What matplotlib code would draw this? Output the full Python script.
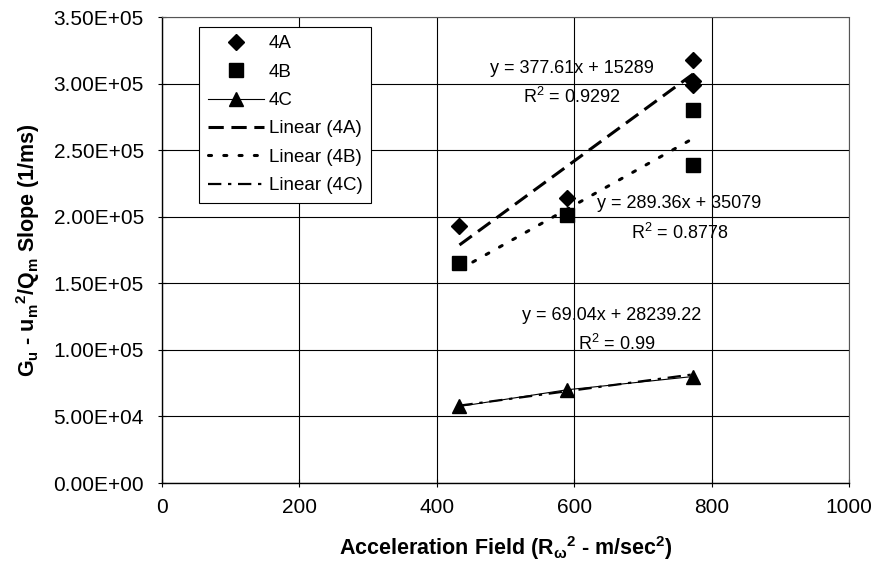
import matplotlib
matplotlib.use('Agg')
import matplotlib.pyplot as plt

plt.rcParams['font.family'] = ['Liberation Sans', 'DejaVu Sans']
plt.rcParams['mathtext.fontset'] = 'custom'
plt.rcParams['mathtext.rm'] = 'Liberation Sans'
plt.rcParams['mathtext.bf'] = 'Liberation Sans:bold'
plt.rcParams['mathtext.it'] = 'Liberation Sans:italic'

# data
x_4a = [433, 589, 773, 773, 773]
y_4a = [193000, 214000, 318000, 302000, 299000]
x_4b = [433, 589, 773, 773]
y_4b = [165000, 201000, 280000, 239000]
x_4c = [433, 589, 773]
y_4c = [57500, 70000, 80000]

# trendline coefficients printed on the chart
slopes = [377.61, 289.36, 69.04]
intercepts = [15289, 35079, 28239.22]
eq_labels = ['y = 377.61x + 15289', 'y = 289.36x + 35079', 'y = 69.04x + 28239.22']
r2_labels = [r'R$^\mathrm{2}$ = 0.9292', r'R$^\mathrm{2}$ = 0.8778', r'R$^\mathrm{2}$ = 0.99']
eq_pos = [(596, 311500), (753, 210000), (655, 125600)]
r2_pos = [(596, 290000), (753, 187800), (662, 104700)]

x_ticks = [0, 200, 400, 600, 800, 1000]
y_ticks = [0, 50000, 100000, 150000, 200000, 250000, 300000, 350000]

fig = plt.figure(figsize=(8.74, 5.65), dpi=100)
ax = fig.add_axes([0.1854, 0.1451, 0.786, 0.8248])

ax.plot(x_4a, y_4a, linestyle='none', marker='D', markersize=8.5, color='black', label='4A')
ax.plot(x_4b, y_4b, linestyle='none', marker='s', markersize=10, color='black', label='4B')
ax.plot(x_4c, y_4c, linestyle='-', linewidth=0.8, marker='^', markersize=10, color='black', label='4C')

styles = [dict(linestyle=(0, (5, 2.5)), linewidth=2.2),
          dict(linestyle=(0, (1, 4)), linewidth=2.2, dash_capstyle='round'),
          dict(linestyle=(0, (6, 3, 1.5, 3)), linewidth=1.6)]
names = ['Linear (4A)', 'Linear (4B)', 'Linear (4C)']
for xs, m, b, st, nm in zip([x_4a, x_4b, x_4c], slopes, intercepts, styles, names):
    x0, x1 = min(xs), max(xs)
    ax.plot([x0, x1], [m * x0 + b, m * x1 + b], color='black', label=nm, **st)

for t, p in zip(eq_labels, eq_pos):
    ax.text(p[0], p[1], t, ha='center', va='center', fontsize=13)
for t, p in zip(r2_labels, r2_pos):
    ax.text(p[0], p[1], t, ha='center', va='center', fontsize=13)

ax.set_xlim(0, 1000)
ax.set_ylim(0, 350000)
ax.set_xticks(x_ticks)
ax.set_yticks(y_ticks)
ax.set_yticklabels(['%.2E' % v for v in y_ticks])
ax.tick_params(direction='inout', length=6, width=0.8, labelsize=15, colors='black')
ax.tick_params(axis='x', pad=8)
ax.tick_params(axis='y', pad=10)
ax.grid(True, color='black', linewidth=0.8)
ax.set_axisbelow(True)

for s in ['top', 'right']:
    ax.spines[s].set_linestyle((0, (1, 1)))
    ax.spines[s].set_color('#555555')
    ax.spines[s].set_linewidth(0.8)
for s in ['left', 'bottom']:
    ax.spines[s].set_linewidth(1.0)

ax.set_xlabel(r'Acceleration Field (R$_\mathbf{\omega}$$^\mathbf{2}$ - m/sec$^\mathbf{2}$)',
              fontsize=15.5, fontweight='bold', labelpad=12)
ax.set_ylabel(r'G$_\mathbf{u}$ - u$_\mathbf{m}$$^\mathbf{2}$/Q$_\mathbf{m}$ Slope (1/ms)',
              fontsize=15.5, fontweight='bold', labelpad=8)

leg = ax.legend(loc='upper left', bbox_to_anchor=(0.054, 0.979), borderaxespad=0,
                fontsize=13.5, handlelength=3.0, handletextpad=0.25, labelspacing=0.6,
                borderpad=0.45, fancybox=False, framealpha=1, edgecolor='black')
leg.get_frame().set_linewidth(0.8)

fig.savefig('out.png', dpi=100)
